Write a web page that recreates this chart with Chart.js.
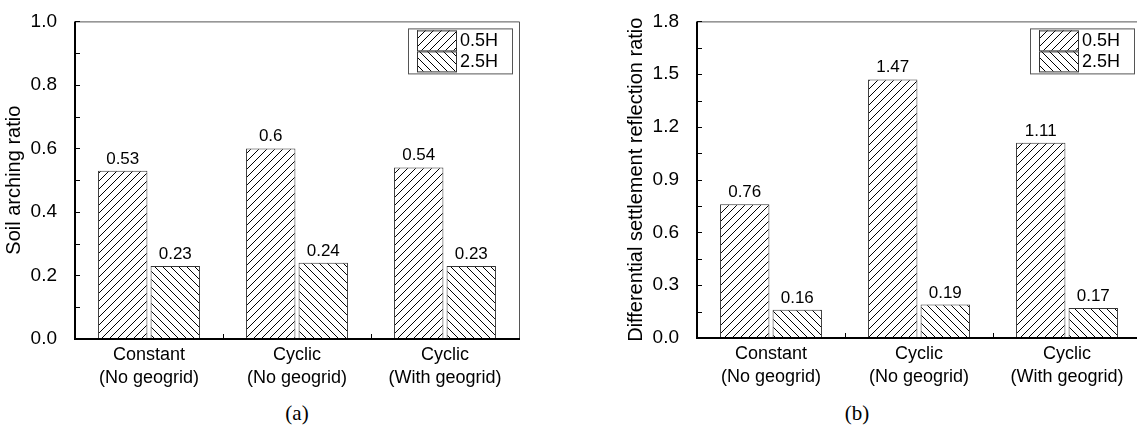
<!DOCTYPE html>
<html>
<head>
<meta charset="utf-8">
<script src="https://cdn.jsdelivr.net/npm/chart.js@4.4.1/dist/chart.umd.min.js"></script>
<style>
  html, body { margin: 0; padding: 0; background: #fff; width: 1137px; height: 429px; overflow: hidden; }
  .panel { position: absolute; top: 0; width: 560px; height: 400px; }
  #wrapA { left: 0; }
  #wrapB { left: 622px; }
  .cap { position: absolute; top: 401px; font: 21px "Liberation Serif", "Times New Roman", serif; transform: translateX(-50%); }
</style>
</head>
<body>
<div class="panel" id="wrapA"><canvas id="chartA" width="560" height="400"></canvas></div>
<div class="panel" id="wrapB"><canvas id="chartB" width="560" height="400"></canvas></div>
<div class="cap" style="left:297px">(a)</div>
<div class="cap" style="left:857px">(b)</div>
<script>
// categories and series
const categories = [
    ['Constant', '(No geogrid)'],
    ['Cyclic', '(No geogrid)'],
    ['Cyclic', '(With geogrid)']
];
const seriesNames = ['0.5H', '2.5H'];

// (a) soil arching ratio
const archingHalfH = [0.53, 0.6, 0.54];
const archingTwoHalfH = [0.23, 0.24, 0.23];

// (b) differential settlement reflection ratio
const settlementHalfH = [0.76, 1.47, 1.11];
const settlementTwoHalfH = [0.16, 0.19, 0.17];

const FONT = '"Liberation Sans", Arial, sans-serif';

// hatch tiles: '/' for 0.5H and '\' for 2.5H
function makeHatch(forward) {
    const s = 8;
    const c = document.createElement('canvas');
    c.width = s; c.height = s;
    const g = c.getContext('2d');
    g.fillStyle = '#fff';
    g.fillRect(0, 0, s, s);
    g.strokeStyle = '#000';
    g.lineWidth = 1;
    g.beginPath();
    if (forward) {
        g.moveTo(0, s); g.lineTo(s, 0);
        g.moveTo(-1, 1); g.lineTo(1, -1);
        g.moveTo(s - 1, s + 1); g.lineTo(s + 1, s - 1);
    } else {
        g.moveTo(0, 0); g.lineTo(s, s);
        g.moveTo(-1, s - 1); g.lineTo(1, s + 1);
        g.moveTo(s - 1, -1); g.lineTo(s + 1, 1);
    }
    g.stroke();
    return g.createPattern(c, 'repeat');
}

// frame, inward ticks, value labels and legend box
const decorations = {
    id: 'decorations',
    afterDraw(chart) {
        const ctx = chart.ctx;
        const a = chart.chartArea;
        const x = chart.scales.x;
        const y = chart.scales.y;
        ctx.save();

        // value labels above the bars
        ctx.fillStyle = '#000';
        ctx.font = '17px ' + FONT;
        ctx.textAlign = 'center';
        ctx.textBaseline = 'alphabetic';
        chart.data.datasets.forEach(function(ds, i) {
            chart.getDatasetMeta(i).data.forEach(function(bar, j) {
                ctx.fillText(String(ds.data[j]), bar.x, bar.y - 7);
            });
        });

        // thin top and right frame
        ctx.strokeStyle = '#555';
        ctx.lineWidth = 1;
        ctx.beginPath();
        ctx.moveTo(a.left, a.top + 0.5);
        ctx.lineTo(a.right + 0.5, a.top + 0.5);
        ctx.lineTo(a.right + 0.5, a.bottom);
        ctx.stroke();

        // inward ticks
        ctx.strokeStyle = '#000';
        ctx.beginPath();
        y.ticks.forEach(function(t) {
            const py = Math.round(y.getPixelForValue(t.value)) + 0.5;
            ctx.moveTo(a.left, py);
            ctx.lineTo(a.left + 5, py);
        });
        for (let i = 1; i < x.ticks.length; i++) {
            const px = Math.round((x.getPixelForValue(i - 1) + x.getPixelForValue(i)) / 2) + 0.5;
            ctx.moveTo(px, a.bottom);
            ctx.lineTo(px, a.bottom - 5);
        }
        ctx.stroke();

        // thick left and bottom axes
        ctx.lineWidth = 2;
        ctx.beginPath();
        ctx.moveTo(a.left, a.top);
        ctx.lineTo(a.left, a.bottom);
        ctx.lineTo(a.right + 1, a.bottom);
        ctx.stroke();

        // legend box in the top right corner
        const bw = 104, bh = 45;
        const bx = a.right - 7 - bw;
        const by = a.top + 7;
        ctx.font = '18px ' + FONT;
        ctx.strokeStyle = '#555';
        ctx.lineWidth = 1;
        ctx.strokeRect(bx + 0.5, by + 0.5, bw, bh);
        ctx.textAlign = 'left';
        ctx.textBaseline = 'middle';
        chart.data.datasets.forEach(function(ds, i) {
            const sy = by + 2 + i * 21;
            ctx.fillStyle = ds.backgroundColor;
            ctx.fillRect(bx + 9, sy, 39, 20);
            ctx.strokeStyle = '#333';
            ctx.strokeRect(bx + 9.5, sy + 0.5, 39, 20);
            ctx.fillStyle = '#000';
            ctx.fillText(ds.label, bx + 52, sy + 11);
        });

        ctx.restore();
    }
};

function makeChart(id, first, second, yMax, yStep, yTitle, top, bottom) {
    const ctx = document.getElementById(id);
    return new Chart(ctx, {
        type: 'bar',
        data: {
            labels: categories,
            datasets: [{
                label: seriesNames[0],
                data: first,
                backgroundColor: makeHatch(true),
                borderColor: '#333',
                borderWidth: 1
            }, {
                label: seriesNames[1],
                data: second,
                backgroundColor: makeHatch(false),
                borderColor: '#333',
                borderWidth: 1
            }]
        },
        options: {
            responsive: false,
            animation: false,
            events: [],
            categoryPercentage: 0.71,
            barPercentage: 0.94,
            layout: { padding: { top: top, right: 41, left: 0, bottom: 0 } },
            plugins: {
                legend: { display: false },
                tooltip: { enabled: false }
            },
            scales: {
                x: {
                    grid: { display: false },
                    border: { display: false },
                    ticks: {
                        color: '#000',
                        padding: -3,
                        font: { family: FONT, size: 18, lineHeight: 1.26 },
                        maxRotation: 0,
                        autoSkip: false
                    },
                    afterFit: function(scale) { scale.height = 400 - bottom; }
                },
                y: {
                    min: 0,
                    max: yMax,
                    grid: { display: false },
                    border: { display: false },
                    ticks: {
                        stepSize: yStep / 2,
                        autoSkip: false,
                        color: '#000',
                        padding: 10,
                        font: { family: FONT, size: 19 },
                        callback: function(value, index) {
                            return index % 2 === 0 ? value.toFixed(1) : '';
                        }
                    },
                    title: {
                        display: true,
                        text: yTitle,
                        color: '#000',
                        padding: { top: 2, bottom: 0 },
                        font: { family: FONT, size: 20 }
                    },
                    afterFit: function(scale) { scale.width = 75; }
                }
            }
        },
        plugins: [decorations]
    });
}

makeChart('chartA', archingHalfH, archingTwoHalfH, 1.0, 0.2, 'Soil arching ratio', 14, 339);
makeChart('chartB', settlementHalfH, settlementTwoHalfH, 1.8, 0.3, 'Differential settlement reflection ratio', 12, 338);
</script>
</body>
</html>
